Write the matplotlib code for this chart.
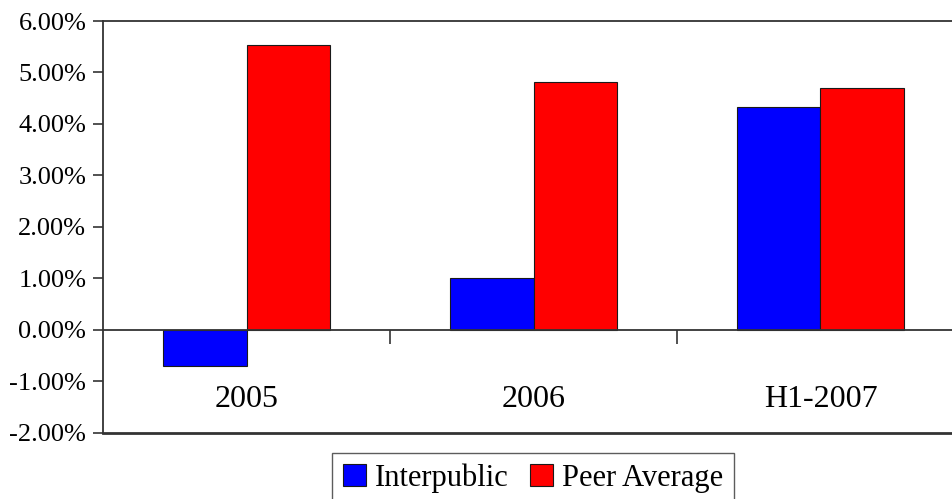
import matplotlib.pyplot as plt
from matplotlib.ticker import FuncFormatter

categories = ["2005", "2006", "H1-2007"]
interpublic = [-0.70, 1.00, 4.32]
peer_average = [5.53, 4.82, 4.69]
y_ticks = [-2, -1, 0, 1, 2, 3, 4, 5, 6]

plt.rcParams['font.family'] = ['Liberation Serif', 'DejaVu Serif']

fig = plt.figure(figsize=(9.52, 4.99), dpi=100)
ax = fig.add_axes([0.1082, 0.1329, 0.9044, 0.8250])

x = list(range(len(categories)))
w = 0.29
ax.bar([i - w for i in x], interpublic, width=w, align='edge', color='#0000ff',
       edgecolor='#1a1a1a', linewidth=0.8, label='Interpublic')
ax.bar(x, peer_average, width=w, align='edge', color='#ff0000',
       edgecolor='#1a1a1a', linewidth=0.8, label='Peer Average')

ax.set_xlim(-0.5, len(categories) - 0.5)
ax.set_ylim(-2, 6)
ax.set_yticks(y_ticks)
ax.yaxis.set_major_formatter(FuncFormatter(lambda v, p: "%.2f%%" % v))
ax.tick_params(axis='y', labelsize=19, length=7, width=1.2, pad=5, color='#333333')

# category axis sits on the zero line
ax.spines['bottom'].set_position(('data', 0))
ax.spines['right'].set_visible(False)
for s in ['left', 'top', 'bottom']:
    ax.spines[s].set_color('#333333')
    ax.spines[s].set_linewidth(1.3)
ax.axhline(-2, color='#333333', linewidth=2.0, clip_on=False)

ax.set_xticks(x)
ax.set_xticklabels(categories)
ax.set_xticks([0.5, 1.5], minor=True)
ax.tick_params(axis='x', which='major', length=0, labelsize=23, pad=40)
ax.tick_params(axis='x', which='minor', length=10, width=1.2, color='#333333')

fig.legend(loc='upper left', bbox_to_anchor=(332 / 952, (499 - 452.7) / 499),
           ncol=2, fontsize=22, frameon=True, fancybox=False, edgecolor='#333333',
           handlelength=0.75, handleheight=0.75, handletextpad=0.3,
           columnspacing=0.7, borderpad=0.35, borderaxespad=0)

fig.savefig("out.png", dpi=100)
